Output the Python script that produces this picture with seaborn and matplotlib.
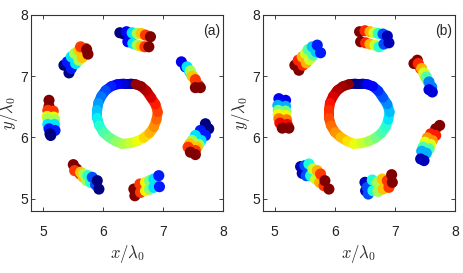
import pandas as pd
import seaborn as sns
import matplotlib as mpl
import matplotlib.pyplot as plt
from matplotlib.collections import LineCollection

# central ring, same outline in both panels (listed counter-clockwise from the top)
ring_x = [6.542, 6.459, 6.348, 6.237, 6.137, 6.043, 5.971, 5.921, 5.904, 5.904, 5.937, 6.004, 6.098,
          6.209, 6.320, 6.448, 6.570, 6.681, 6.775, 6.847, 6.891, 6.913, 6.875, 6.803, 6.725, 6.636]
ring_y = [6.869, 6.880, 6.880, 6.869, 6.836, 6.770, 6.672, 6.563, 6.443, 6.322, 6.197, 6.087, 6.005,
          5.940, 5.896, 5.907, 5.940, 5.995, 6.071, 6.169, 6.290, 6.415, 6.541, 6.650, 6.760, 6.836]
ring_c_a = [0.00, 0.04, 0.08, 0.12, 0.16, 0.20, 0.24, 0.28, 0.32, 0.36, 0.40, 0.44, 0.48,
            0.52, 0.56, 0.60, 0.64, 0.68, 0.72, 0.76, 0.80, 0.84, 0.88, 0.92, 0.95, 0.98]
ring_c_b = [0.08, 0.04, 0.01, 0.99, 0.97, 0.95, 0.92, 0.89, 0.86, 0.83, 0.79, 0.75, 0.71,
            0.67, 0.63, 0.59, 0.54, 0.49, 0.44, 0.40, 0.35, 0.31, 0.26, 0.21, 0.17, 0.12]

# outer clusters, panel (a): two points per blob
blob_x_a = [
    6.281, 6.348, 6.392, 6.414, 6.486, 6.497, 6.570, 6.570, 6.636, 6.636, 6.708, 6.697, 6.791, 6.764,  # top
    5.349, 5.433, 5.405, 5.471, 5.471, 5.544, 5.527, 5.599, 5.599, 5.654, 5.627, 5.710, 5.727, 5.749,  # upper left
    7.307, 7.374, 7.401, 7.446, 7.457, 7.501, 7.485, 7.540, 7.540, 7.596, 7.540, 7.623,                # upper right
    5.100, 5.100, 5.080, 5.170, 5.070, 5.180, 5.080, 5.190, 5.080, 5.190, 5.100, 5.200, 5.116, 5.128,  # left
    7.707, 7.762, 7.623, 7.707, 7.540, 7.634, 7.485, 7.596, 7.446, 7.568, 7.418, 7.540, 7.457, 7.540,  # right
    5.505, 5.560, 5.527, 5.616, 5.627, 5.671, 5.682, 5.727, 5.749, 5.793, 5.821, 5.876, 5.904, 5.932,  # lower left
    6.514, 6.531, 6.614, 6.625, 6.708, 6.708, 6.775, 6.775, 6.847, 6.847, 6.930, 6.941,                # bottom
]
blob_y_a = [
    7.710, 7.689, 7.727, 7.563, 7.710, 7.536, 7.699, 7.508, 7.699, 7.492, 7.672, 7.481, 7.645, 7.481,
    7.180, 7.055, 7.235, 7.126, 7.317, 7.208, 7.372, 7.262, 7.426, 7.306, 7.481, 7.454, 7.437, 7.361,
    7.235, 7.153, 7.153, 7.071, 7.087, 7.000, 7.000, 6.907, 6.945, 6.852, 6.814, 6.814,
    6.607, 6.508, 6.443, 6.432, 6.344, 6.333, 6.306, 6.290, 6.213, 6.213, 6.142, 6.115, 6.060, 6.033,
    6.224, 6.142, 6.115, 6.033, 6.033, 5.951, 5.951, 5.885, 5.896, 5.842, 5.842, 5.787, 5.760, 5.721,
    5.557, 5.486, 5.459, 5.404, 5.432, 5.350, 5.404, 5.295, 5.377, 5.268, 5.350, 5.230, 5.295, 5.158,
    5.158, 5.049, 5.240, 5.104, 5.268, 5.131, 5.295, 5.158, 5.322, 5.186, 5.377, 5.197,
]
blob_c_a = [
    0.00, 0.00, 0.13, 0.13, 0.35, 0.35, 0.55, 0.55, 0.70, 0.70, 0.85, 0.85, 1.00, 1.00,
    0.00, 0.00, 0.15, 0.15, 0.35, 0.35, 0.55, 0.55, 0.70, 0.70, 0.85, 0.85, 1.00, 1.00,
    0.10, 0.10, 0.35, 0.35, 0.55, 0.55, 0.70, 0.70, 0.85, 0.85, 1.00, 1.00,
    1.00, 1.00, 0.85, 0.85, 0.65, 0.65, 0.55, 0.55, 0.35, 0.35, 0.15, 0.15, 0.00, 0.00,
    0.00, 0.00, 0.15, 0.15, 0.35, 0.35, 0.55, 0.55, 0.70, 0.70, 0.85, 0.85, 1.00, 1.00,
    1.00, 1.00, 0.85, 0.85, 0.70, 0.70, 0.55, 0.55, 0.40, 0.40, 0.20, 0.20, 0.00, 0.00,
    1.00, 1.00, 0.85, 0.85, 0.65, 0.65, 0.50, 0.50, 0.35, 0.35, 0.15, 0.15,
]

# outer clusters, panel (b)
blob_x_b = [
    6.414, 6.431, 6.503, 6.514, 6.586, 6.586, 6.653, 6.669, 6.725, 6.736, 6.803, 6.819, 6.875, 6.902,  # top
    5.338, 5.405, 5.394, 5.471, 5.460, 5.527, 5.516, 5.582, 5.560, 5.638, 5.627, 5.693, 5.710, 5.765,  # upper left
    7.318, 7.374, 7.390, 7.429, 7.446, 7.485, 7.485, 7.512, 7.524, 7.557, 7.568, 7.612, 7.568, 7.623,  # upper right
    5.072, 5.183, 5.055, 5.183, 5.061, 5.183, 5.061, 5.183, 5.072, 5.200, 5.089, 5.211, 5.128, 5.238,  # left
    7.679, 7.745, 7.596, 7.679, 7.540, 7.623, 7.501, 7.596, 7.468, 7.568, 7.446, 7.524, 7.429, 7.485,  # right
    5.433, 5.460, 5.505, 5.527, 5.571, 5.599, 5.638, 5.682, 5.710, 5.749, 5.765, 5.821, 5.837, 5.904,  # lower left
    6.503, 6.514, 6.542, 6.558, 6.625, 6.636, 6.708, 6.719, 6.791, 6.803, 6.875, 6.902, 6.947, 6.958,  # bottom
]
blob_y_b = [
    7.727, 7.563, 7.743, 7.546, 7.727, 7.525, 7.710, 7.508, 7.699, 7.481, 7.689, 7.525, 7.656, 7.546,
    7.180, 7.098, 7.262, 7.180, 7.317, 7.219, 7.372, 7.273, 7.437, 7.344, 7.481, 7.399, 7.508, 7.383,
    7.208, 7.262, 7.208, 7.126, 7.126, 7.044, 7.055, 6.978, 6.989, 6.907, 6.907, 6.825, 6.781, 6.743,
    6.634, 6.607, 6.525, 6.508, 6.443, 6.432, 6.377, 6.361, 6.306, 6.290, 6.235, 6.213, 6.153, 6.153,
    6.142, 6.197, 6.060, 6.033, 5.995, 5.951, 5.923, 5.885, 5.842, 5.814, 5.776, 5.743, 5.650, 5.623,
    5.525, 5.415, 5.541, 5.377, 5.568, 5.377, 5.486, 5.322, 5.459, 5.268, 5.404, 5.213, 5.295, 5.158,
    5.268, 5.131, 5.186, 5.077, 5.306, 5.131, 5.268, 5.120, 5.322, 5.158, 5.295, 5.186, 5.393, 5.268,
]
blob_c_b = [
    1.00, 1.00, 0.87, 0.87, 0.72, 0.72, 0.60, 0.60, 0.40, 0.40, 0.20, 0.20, 0.05, 0.05,
    1.00, 1.00, 0.87, 0.87, 0.72, 0.72, 0.60, 0.60, 0.45, 0.45, 0.32, 0.32, 0.15, 0.15,
    1.00, 1.00, 0.87, 0.87, 0.72, 0.72, 0.60, 0.60, 0.45, 0.45, 0.25, 0.25, 0.08, 0.08,
    0.10, 0.10, 0.30, 0.30, 0.50, 0.50, 0.65, 0.65, 0.78, 0.78, 0.90, 0.90, 1.00, 1.00,
    1.00, 1.00, 0.88, 0.88, 0.75, 0.75, 0.62, 0.62, 0.45, 0.45, 0.30, 0.30, 0.05, 0.05,
    0.05, 0.05, 0.20, 0.20, 0.38, 0.38, 0.60, 0.60, 0.72, 0.72, 0.85, 0.85, 1.00, 1.00,
    0.05, 0.05, 0.20, 0.20, 0.38, 0.38, 0.55, 0.55, 0.70, 0.70, 0.85, 0.85, 1.00, 1.00,
]

ticks = [5, 6, 7, 8]
panel_tags = ['(a)', '(b)']
jet = mpl.colormaps['jet']


def draw_ring(ax, ring_c):
    # ring drawn as a closed band, one segment per listed vertex
    pts = list(zip(ring_x, ring_y))
    segs = [[pts[i], pts[(i + 1) % len(pts)]] for i in range(len(pts))]
    lc = LineCollection(segs, colors=[jet(c) for c in ring_c], linewidths=7.2,
                        capstyle='round', joinstyle='round')
    ax.add_collection(lc)


def draw_panel(ax, ring_c, bx, by, bc, tag):
    draw_ring(ax, ring_c)
    blobs = pd.DataFrame({'x': bx, 'y': by, 'c': bc})
    sns.scatterplot(data=blobs, x='x', y='y', hue='c', palette=jet, hue_norm=(0, 1),
                    s=64, linewidth=0, legend=False, ax=ax)
    ax.set_xlim(4.8, 8)
    ax.set_ylim(4.8, 8)
    ax.set_xticks(ticks)
    ax.set_yticks(ticks)
    ax.tick_params(direction='in', top=True, right=True, length=3, width=0.6,
                   labelsize=10, colors='#222222')
    ax.tick_params(axis='x', pad=10)
    ax.tick_params(axis='y', pad=2)
    for sp in ax.spines.values():
        sp.set_linewidth(0.8)
        sp.set_color('#333333')
    ax.set_xlabel(r'$x/\lambda_0$', fontsize=12, labelpad=3)
    ax.set_ylabel(r'$y/\lambda_0$', fontsize=12, labelpad=0)
    ax.text(0.985, 0.955, tag, transform=ax.transAxes, ha='right', va='top', fontsize=10)


sns.set_style('ticks')
plt.rcParams['font.family'] = ['Liberation Sans', 'DejaVu Sans']
plt.rcParams['mathtext.fontset'] = 'cm'

fig = plt.figure(figsize=(4.63, 2.73), dpi=100)
ax_a = fig.add_axes([0.0670, 0.2271, 0.4146, 0.718])
ax_b = fig.add_axes([0.5670, 0.2271, 0.4157, 0.718])

draw_panel(ax_a, ring_c_a, blob_x_a, blob_y_a, blob_c_a, panel_tags[0])
draw_panel(ax_b, ring_c_b, blob_x_b, blob_y_b, blob_c_b, panel_tags[1])

fig.savefig('out.png', dpi=100)
plt.close(fig)
